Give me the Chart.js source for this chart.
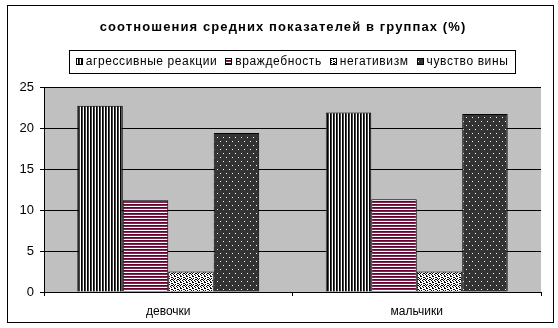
<!DOCTYPE html>
<html>
<head>
<meta charset="utf-8">
<script src="https://cdn.jsdelivr.net/npm/chart.js@4/dist/chart.umd.min.js"></script>
<style>
html,body{margin:0;padding:0;background:#fff;}
#wrap{width:558px;height:328px;}
</style>
</head>
<body>
<div id="wrap"><canvas id="c" width="558" height="328"></canvas></div>
<script>
const title = 'соотношения средних показателей в группах (%)';
const categories = ['девочки', 'мальчики'];
const seriesNames = ['агрессивные реакции', 'враждебность', 'негативизм', 'чувство вины'];
const aggressive = [22.7, 21.9];
const hostility = [11.2, 11.3];
const negativism = [2.5, 2.5];
const guilt = [19.4, 21.7];
const yTicks = [0, 5, 10, 15, 20, 25];

function makePattern(w, h, draw) {
  const c = document.createElement('canvas');
  c.width = w; c.height = h;
  const x = c.getContext('2d');
  draw(x);
  return document.getElementById('c').getContext('2d').createPattern(c, 'repeat');
}
const patVertical = makePattern(3, 3, x => {
  x.fillStyle = '#fff'; x.fillRect(0, 0, 3, 3);
  x.fillStyle = '#000'; x.fillRect(0, 0, 1, 3);
  x.fillStyle = '#444'; x.fillRect(1, 0, 1, 3);
});
const patHorizontal = makePattern(3, 3, x => {
  x.fillStyle = '#fff'; x.fillRect(0, 0, 3, 3);
  x.fillStyle = '#660033'; x.fillRect(0, 0, 3, 1);
  x.fillStyle = '#7a2a4d'; x.fillRect(0, 1, 3, 1);
});
const patConfetti = makePattern(6, 6, x => {
  x.fillStyle = '#fff'; x.fillRect(0, 0, 6, 6);
  x.fillStyle = '#000';
  [[0,0],[1,0],[3,1],[4,1],[1,2],[5,2],[0,3],[3,3],[4,3],[2,4],[5,4],[0,5],[3,5]].forEach(p => x.fillRect(p[0], p[1], 1, 1));
});
const patDots = makePattern(6, 8, x => {
  x.fillStyle = '#333'; x.fillRect(0, 0, 6, 8);
  x.fillStyle = '#fff';
  x.fillRect(1, 1, 1, 1);
  x.fillRect(4, 5, 1, 1);
});
const patterns = [patVertical, patHorizontal, patConfetti, patDots];
const values = [aggressive, hostility, negativism, guilt];

const decor = {
  id: 'decor',
  beforeDraw(chart) {
    const ctx = chart.ctx, a = chart.chartArea;
    ctx.save();
    ctx.fillStyle = '#fff';
    ctx.fillRect(0, 0, chart.width, chart.height);
    ctx.fillStyle = '#c0c0c0';
    ctx.fillRect(a.left, a.top, a.right - a.left, a.bottom - a.top);
    ctx.restore();
  },
  afterDraw(chart) {
    const ctx = chart.ctx;
    ctx.save();
    // outer border
    ctx.strokeStyle = '#000';
    ctx.lineWidth = 1;
    ctx.strokeRect(7.5, 5.5, 546, 317);
    // title
    ctx.fillStyle = '#000';
    ctx.font = 'bold 13px "Liberation Sans", Arial, sans-serif';
    ctx.letterSpacing = '1.1px';
    ctx.textAlign = 'center';
    ctx.textBaseline = 'middle';
    ctx.fillText(title, 283, 27);
    // legend
    ctx.font = '12px "Liberation Sans", Arial, sans-serif';
    ctx.letterSpacing = '0.6px';
    ctx.textAlign = 'left';
    const box = 7, gapText = 3, gapItem = 8;
    const widths = seriesNames.map(s => ctx.measureText(s).width);
    let total = 0;
    widths.forEach((w, i) => { total += box + gapText + w + (i < widths.length - 1 ? gapItem : 0); });
    const lx0 = 69, lx1 = 515, ly0 = 50, ly1 = 73;
    ctx.strokeRect(lx0 + 0.5, ly0 + 0.5, lx1 - lx0, ly1 - ly0);
    let x = (lx0 + lx1) / 2 - total / 2;
    const cy = (ly0 + ly1) / 2 + 0.5;
    seriesNames.forEach((s, i) => {
      const bx = Math.round(x), by = Math.round(cy - 4);
      ctx.fillStyle = patterns[i];
      ctx.fillRect(bx, by, box, box);
      ctx.strokeStyle = '#000';
      ctx.strokeRect(bx + 0.5, by + 0.5, box - 1, box - 1);
      ctx.fillStyle = '#000';
      ctx.fillText(s, x + box + gapText, cy);
      x += box + gapText + widths[i] + gapItem;
    });
    ctx.restore();
  }
};

new Chart(document.getElementById('c'), {
  type: 'bar',
  data: {
    labels: categories,
    datasets: seriesNames.map((n, i) => ({
      label: n,
      data: values[i],
      backgroundColor: patterns[i],
      borderColor: '#000',
      borderWidth: 1,
      barPercentage: 1,
      categoryPercentage: 0.732
    }))
  },
  options: {
    responsive: false,
    animation: false,
    devicePixelRatio: 1,
    layout: { padding: { top: 87, right: 17, bottom: 0, left: 0 } },
    plugins: { legend: { display: false }, title: { display: false }, tooltip: { enabled: false } },
    scales: {
      x: {
        grid: { display: true, drawOnChartArea: false, offset: true, color: '#000', tickLength: 4 },
        border: { color: '#000' },
        ticks: { color: '#000', padding: 8, font: { family: '"Liberation Sans", Arial, sans-serif', size: 12 } },
        afterFit(s) { s.height = 36; }
      },
      y: {
        min: 0, max: 25,
        afterBuildTicks(s) { s.ticks = yTicks.map(v => ({ value: v })); },
        grid: { color: '#000', tickLength: 4 },
        border: { color: '#000' },
        ticks: { color: '#000', padding: 6, font: { family: '"Liberation Sans", Arial, sans-serif', size: 13 } },
        afterFit(s) { s.width = 44; }
      }
    }
  },
  plugins: [decor]
});
</script>
</body>
</html>
